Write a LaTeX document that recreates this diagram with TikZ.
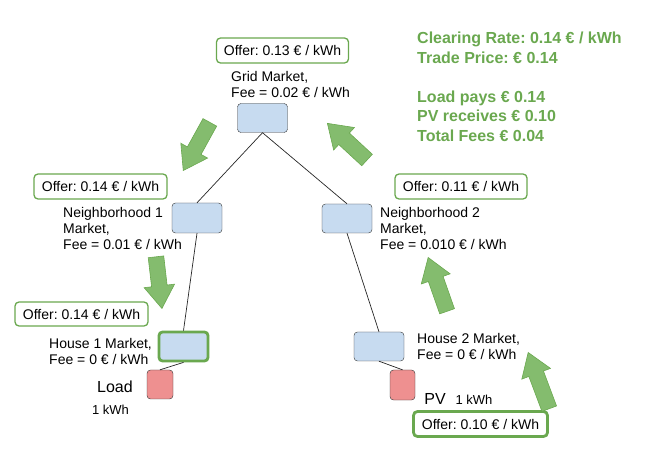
\documentclass[tikz,border=0pt]{standalone}
\usepackage{fontspec}
\setmainfont{Liberation Sans}
\usetikzlibrary{shapes.arrows}
\definecolor{mktblue}{HTML}{C7DBF0}
\definecolor{devred}{HTML}{EE9090}
\definecolor{offgreen}{HTML}{6AA84F}
\definecolor{flowgreen}{HTML}{84BC6E}
\frenchspacing
\begin{document}
\begin{tikzpicture}[x=1pt, y=-1pt, every node/.style={font=\fontsize{14}{16}\selectfont},
  market/.style={draw=black!80, fill=mktblue, rounded corners=3.5pt, minimum width=50pt, minimum height=29pt, inner sep=0pt},
  device/.style={draw=black!80, fill=devred, rounded corners=3.5pt, minimum width=26pt, minimum height=29pt, inner sep=0pt},
  offer/.style={draw=offgreen, line width=1.3pt, rounded corners=4pt, minimum width=132pt, minimum height=25pt, inner sep=2pt},
  mktlabel/.style={align=left, anchor=west, inner sep=0pt},
  flowarrow/.style={single arrow, draw=offgreen, fill=flowgreen, line width=.6pt, inner xsep=0pt, inner ysep=7.5pt,
    single arrow head extend=7.5pt, single arrow tip angle=68, anchor=tip, sloped, allow upside down, pos=1}]
\useasboundingbox (0,0) rectangle (646,449);
\node[market] (grid) at (262.5,118) {};
\node[market, minimum height=30pt] (nbhA) at (197,218) {};
\node[market] (nbhB) at (347,218.5) {};
\node[market, draw=offgreen, line width=2.8pt, minimum width=49pt, minimum height=29pt] (houseA) at (183.5,346.5) {};
\node[market] (houseB) at (379,346.5) {};
\node[device] (load) at (160,384.5) {};
\node[device, minimum width=25pt, minimum height=30pt] (pv) at (402.5,385) {};
\draw[black!85, line width=.7pt] (grid.south) -- (nbhA.north) (grid.south) -- (nbhB.north)
  (nbhA.south) -- (houseA.north) (houseA.south) -- (load.north)
  (nbhB.south) -- (houseB.north) (houseB.south) -- (pv.north);
\node[offer] (gridoffer) at (282.5,50.5) {Offer: 0.13 € / kWh};
\node[offer, minimum width=133pt] (nbhAoffer) at (100.5,186.5) {Offer: 0.14 € / kWh};
\node[offer] (nbhBoffer) at (461,186.5) {Offer: 0.11 € / kWh};
\node[offer, minimum width=133pt, minimum height=24pt] (houseAoffer) at (81.5,314) {Offer: 0.14 € / kWh};
\node[offer, line width=2.8pt, minimum width=134pt, minimum height=25pt] (pvoffer) at (480.5,424) {Offer: 0.10 € / kWh};
\node[mktlabel] (gridlbl) at (231,84) {Grid Market,\\Fee = 0.02 € / kWh};
\node[mktlabel] (nbhAlbl) at (63,228) {Neighborhood 1\\Market,\\Fee = 0.01 € / kWh};
\node[mktlabel] (nbhBlbl) at (380,228) {Neighborhood 2\\Market,\\Fee = 0.010 € / kWh};
\node[mktlabel] (houseAlbl) at (49,351) {House 1 Market,\\Fee = 0 € / kWh};
\node[mktlabel] (houseBlbl) at (417,346) {House 2 Market,\\Fee = 0 € / kWh};
\node[font=\fontsize{16}{19}\selectfont] (loadlbl) at (115,387) {Load};
\node[font=\fontsize{13}{15}\selectfont] (loadkwh) at (110.5,410) {1 kWh};
\node[font=\fontsize{16}{19}\selectfont] (pvlbl) at (435,399) {PV};
\node[font=\fontsize{13}{15}\selectfont] (pvkwh) at (474,400) {1 kWh};
\node[mktlabel, text=offgreen, font=\bfseries\fontsize{16}{19.5}\selectfont] (summary) at (417,87)
  {Clearing Rate: 0.14 € / kWh\\Trade Price: € 0.14\\[19.5pt]Load pays € 0.14\\PV receives € 0.10\\Total Fees € 0.04};
\foreach \tx/\ty/\hx/\hy/\len in {209.5/123/183/171/55, 367/160/327/123/54, 156/257/162/309/52, 447/311/428/257/57, 549/408/528/352/60}
  \path (\tx,\ty) -- (\hx,\hy) node[flowarrow, minimum height=\len pt] {};
\end{tikzpicture}
\end{document}
